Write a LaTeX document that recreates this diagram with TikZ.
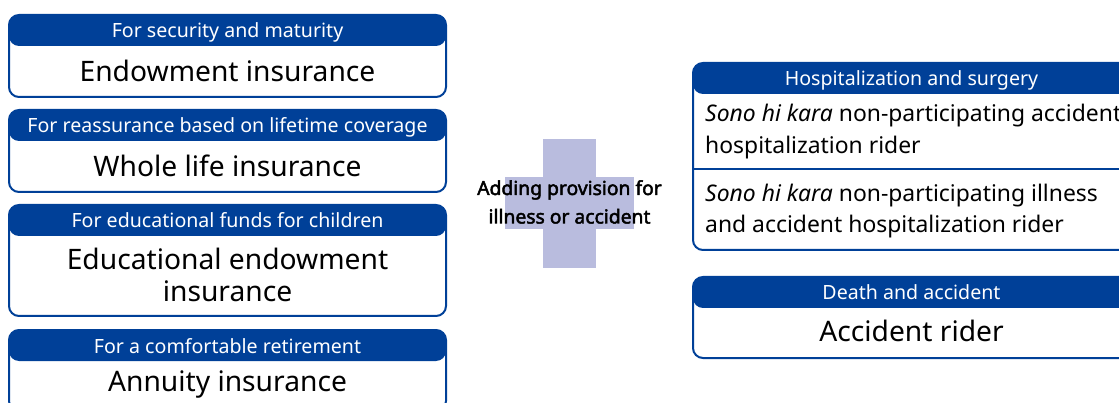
\documentclass[tikz,border=0pt]{standalone}
\usepackage{fontspec}
\setmainfont{Noto Sans}
\newfontfamily\heavyfont{Noto Sans}[FakeBold=2.4]
\definecolor{hdrblue}{RGB}{0,64,152}
\definecolor{crossfill}{RGB}{185,188,222}
\begin{document}
\begin{tikzpicture}[x=1pt,y=-1pt,
  card/.style={draw=hdrblue, line width=2pt, rounded corners=10pt, fill=white,
    minimum width=437pt, inner sep=0pt,
    path picture={\fill[hdrblue] (path picture bounding box.north west)
      rectangle ([yshift=-31pt]path picture bounding box.north east);}},
  hdrtext/.style={text=white, font=\fontsize{19.6}{22}\selectfont, inner sep=0pt, anchor=base},
  bodytext/.style={font=\fontsize{28.2}{32}\selectfont, inner sep=0pt, anchor=base},
  ridertext/.style={font=\fontsize{22.9}{31}\selectfont, inner sep=0pt, anchor=base west},
  crosstext/.style={font=\heavyfont\fontsize{19.3}{29}\selectfont, inner sep=0pt, anchor=base},
]
\useasboundingbox (0,0) rectangle (1119,403);
\clip (0,0) rectangle (1119,403);

% plus sign behind the middle caption
\fill[crossfill] (543,139) rectangle (596,268);
\fill[crossfill] (505,177) rectangle (634,229);
\node[crosstext] (plus1) at (569.5,195) {Adding provision for};
\node[crosstext] (plus2) at (569.5,223.5) {illness or accident};

% insurance plans
\node[card, minimum height=82pt] (c1) at (227.5,56) {};
\node[hdrtext] (c1h) at (227.5,38) {For security and maturity};
\node[bodytext] (c1b) at (227.5,81.7) {Endowment insurance};

\node[card, minimum height=82pt] (c2) at (227.5,151) {};
\node[hdrtext] (c2h) at (227.5,133) {For reassurance based on lifetime coverage};
\node[bodytext] (c2b) at (227.5,176.2) {Whole life insurance};

\node[card, minimum height=111pt] (c3) at (227.5,260.5) {};
\node[hdrtext] (c3h) at (227.5,228) {For educational funds for children};
\node[bodytext] (c3b1) at (227.5,270) {Educational endowment};
\node[bodytext] (c3b2) at (227.5,301.7) {insurance};

\node[card, minimum height=81pt] (c4) at (227.5,370.5) {};
\node[hdrtext] (c4h) at (227.5,353) {For a comfortable retirement};
\node[bodytext] (c4b) at (227.5,391.7) {Annuity insurance};

% riders
\node[card, minimum height=187pt] (r1) at (911.5,156.5) {};
\node[hdrtext] (r1h) at (911.5,86) {Hospitalization and surgery};
\coordinate (split) at (0,169);
\draw[hdrblue, line width=2pt] (r1.west |- split) -- (r1.east |- split);
\node[ridertext] (r1a1) at (705,121.7) {\textit{Sono hi kara} non-participating accident};
\node[ridertext] (r1a2) at (705,153.3) {hospitalization rider};
\node[ridertext] (r1b1) at (705,201.7) {\textit{Sono hi kara} non-participating illness};
\node[ridertext] (r1b2) at (705,233) {and accident hospitalization rider};

\node[card, minimum height=81pt] (r2) at (911.5,317.5) {};
\node[hdrtext] (r2h) at (911.5,300) {Death and accident};
\node[bodytext] (r2b) at (911.5,341.7) {Accident rider};
\end{tikzpicture}
\end{document}
